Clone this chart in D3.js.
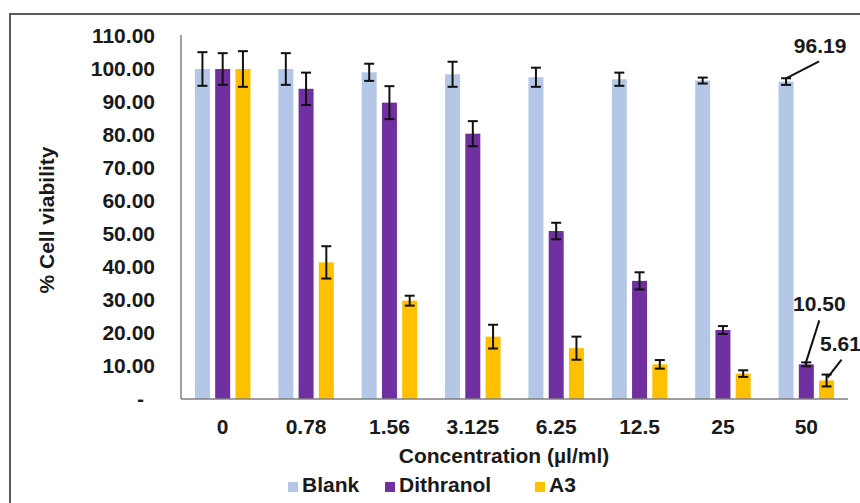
<!DOCTYPE html>
<html>
<head>
<meta charset="utf-8">
<script src="https://cdn.jsdelivr.net/npm/d3@7"></script>
<style>
  html, body { margin: 0; padding: 0; background: #fff; }
  svg { display: block; font-family: "Liberation Sans", Arial, sans-serif; }
</style>
</head>
<body>
<svg id="chart" width="860" height="503"></svg>
<script>
// Cell viability (%) by concentration, mean ± error
const categories = ["0", "0.78", "1.56", "3.125", "6.25", "12.5", "25", "50"];
const seriesNames = ["Blank", "Dithranol", "A3"];
const blank = [100, 100, 99.0, 98.4, 97.5, 96.9, 96.5, 96.19];
const blankErr = [5.1, 4.8, 2.6, 3.8, 2.9, 2.0, 0.9, 1.0];
const dithranol = [100, 94.0, 89.8, 80.4, 50.9, 35.8, 20.9, 10.50];
const dithranolErr = [4.8, 4.9, 5.0, 3.8, 2.5, 2.6, 1.2, 0.6];
const a3 = [100, 41.4, 29.8, 18.9, 15.4, 10.5, 7.7, 5.61];
const a3Err = [5.4, 4.9, 1.5, 3.6, 3.5, 1.3, 1.0, 1.8];
const yTicks = [0, 10, 20, 30, 40, 50, 60, 70, 80, 90, 100, 110];
const colors = ["#b4c7e7", "#7030a0", "#ffc000"];

const series = [
  { name: seriesNames[0], values: blank, errs: blankErr },
  { name: seriesNames[1], values: dithranol, errs: dithranolErr },
  { name: seriesNames[2], values: a3, errs: a3Err }
];

const svg = d3.select("#chart");
const plot = { left: 181, right: 848, top: 36, bottom: 399 };
const FONT = 21;

// outer frame
svg.append("rect")
  .attr("x", 10).attr("y", 14).attr("width", 900).attr("height", 600)
  .attr("fill", "#fff").attr("stroke", "#595959").attr("stroke-width", 2);

const x = d3.scaleBand().domain(categories).range([plot.left, plot.right]).padding(0);
const y = d3.scaleLinear().domain([0, 110]).range([plot.bottom, plot.top]);
const inner = d3.scaleBand().domain(seriesNames)
  .range([-x.bandwidth() * 0.34, x.bandwidth() * 0.34]).paddingInner(0.2).paddingOuter(0);
const barW = x.bandwidth() * 0.18;
const cx = (cat, s) => x(cat) + x.bandwidth() / 2 + inner(s) + inner.bandwidth() / 2;

// bars
series.forEach((s, si) => {
  const g = svg.append("g");
  g.selectAll("rect").data(categories).join("rect")
    .attr("x", (c) => cx(c, s.name) - barW / 2)
    .attr("width", barW)
    .attr("y", (c, i) => y(s.values[i]))
    .attr("height", (c, i) => y(0) - y(s.values[i]))
    .attr("fill", colors[si]);
});

// error bars
series.forEach((s) => {
  const g = svg.append("g").attr("stroke", "#111").attr("stroke-width", 2);
  categories.forEach((c, i) => {
    const px = cx(c, s.name);
    const hi = y(s.values[i] + s.errs[i]);
    const lo = y(s.values[i] - s.errs[i]);
    g.append("line").attr("x1", px).attr("x2", px).attr("y1", hi).attr("y2", lo);
    g.append("line").attr("x1", px - 5).attr("x2", px + 5).attr("y1", hi).attr("y2", hi);
    g.append("line").attr("x1", px - 5).attr("x2", px + 5).attr("y1", lo).attr("y2", lo);
  });
});

// axes lines
svg.append("line").attr("x1", plot.left).attr("x2", plot.left)
  .attr("y1", y(110) - 1).attr("y2", y(0)).attr("stroke", "#7f7f7f").attr("stroke-width", 1.5);
svg.append("line").attr("x1", plot.left).attr("x2", plot.right)
  .attr("y1", y(0)).attr("y2", y(0)).attr("stroke", "#7f7f7f").attr("stroke-width", 1.5);

// y tick labels
const yAxis = d3.axisLeft(y).tickValues(yTicks).tickSize(0).tickPadding(0)
  .tickFormat((d) => d === 0 ? "-" : d3.format(".2f")(d));
const yg = svg.append("g").attr("transform", `translate(${plot.left - 26},0)`).call(yAxis);
yg.select(".domain").remove();
yg.selectAll("text")
  .attr("font-size", FONT).attr("font-weight", "bold").attr("fill", "#1a1a1a")
  .attr("font-family", "Liberation Sans, Arial, sans-serif")
  .attr("dx", (d) => d === 0 ? -11 : 0);

// x tick labels
const xAxis = d3.axisBottom(x).tickSize(0).tickPadding(0);
const xg = svg.append("g").attr("transform", `translate(0,${plot.bottom + 20})`).call(xAxis);
xg.select(".domain").remove();
xg.selectAll("text")
  .attr("font-size", FONT).attr("font-weight", "bold").attr("fill", "#1a1a1a")
  .attr("font-family", "Liberation Sans, Arial, sans-serif");

// axis titles
svg.append("text")
  .attr("x", 504).attr("y", 463).attr("text-anchor", "middle")
  .attr("font-size", FONT).attr("font-weight", "bold").attr("fill", "#1a1a1a")
  .text("Concentration (µl/ml)");
svg.append("text")
  .attr("transform", "translate(54,220) rotate(-90)").attr("text-anchor", "middle")
  .attr("font-size", FONT).attr("font-weight", "bold").attr("fill", "#1a1a1a")
  .text("% Cell viability");

// value callouts on the highest concentration
const last = categories[categories.length - 1];
const li = categories.length - 1;
const callouts = [
  { s: 0, sx: 0, sy: y(blank[li] + blankErr[li]), ex: 33, ey: -17, tx: 34, ty: -25 },
  { s: 1, sx: -1, sy: y(dithranol[li]), ex: 14, ey: -44, tx: 14, ty: -53 },
  { s: 2, sx: 1, sy: y(a3[li] + a3Err[li]) + 3, ex: 14, ey: -18, tx: 13, ty: -27 }
];
callouts.forEach((c) => {
  const s = series[c.s];
  const px = cx(last, s.name) + c.sx;
  svg.append("line")
    .attr("x1", px).attr("y1", c.sy).attr("x2", px + c.ex).attr("y2", c.sy + c.ey)
    .attr("stroke", "#111").attr("stroke-width", 2);
  svg.append("text")
    .attr("x", px + c.tx).attr("y", c.sy + c.ty).attr("text-anchor", "middle")
    .attr("font-size", FONT).attr("font-weight", "bold").attr("fill", "#1a1a1a")
    .text(d3.format(".2f")(s.values[li]));
});

// legend
const legendX = [288, 385, 535];
const lg = svg.append("g");
series.forEach((s, i) => {
  lg.append("rect").attr("x", legendX[i]).attr("y", 482).attr("width", 10).attr("height", 10)
    .attr("fill", colors[i]);
  lg.append("text").attr("x", legendX[i] + 14).attr("y", 492)
    .attr("font-size", FONT).attr("font-weight", "bold").attr("fill", "#1a1a1a")
    .text(s.name);
});
</script>
</body>
</html>
